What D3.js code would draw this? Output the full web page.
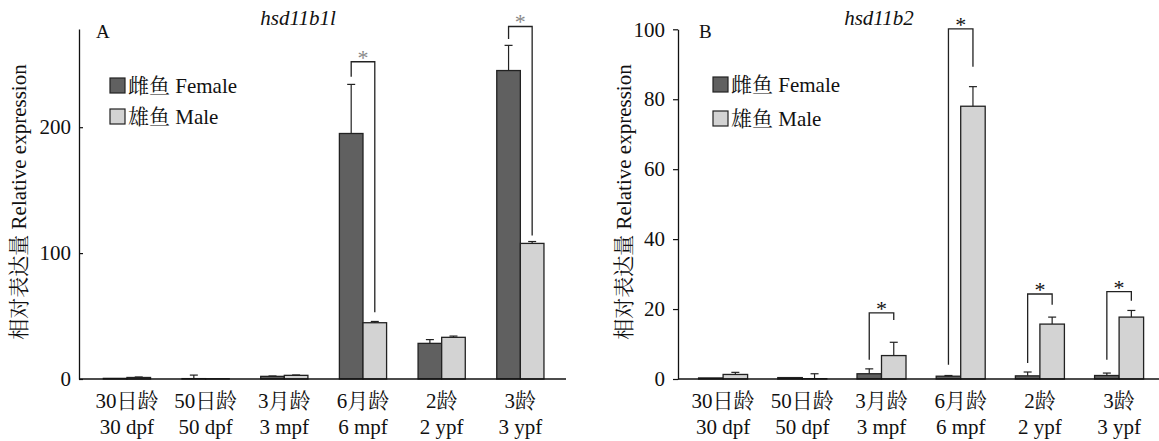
<!DOCTYPE html>
<html lang="zh">
<head>
<meta charset="utf-8">
<title>hsd11b1l / hsd11b2</title>
<script src="https://cdn.jsdelivr.net/npm/d3@7"></script>
<style>
  body { margin: 0; background: #fff; }
  svg text { font-family: "Liberation Serif", "Times New Roman", "Noto Serif CJK SC", "Noto Sans CJK SC", serif; fill: #111; }
</style>
</head>
<body>
<script>
// categories and series
const categoriesCN = ["30日龄", "50日龄", "3月龄", "6月龄", "2龄", "3龄"];
const categoriesEN = ["30 dpf", "50 dpf", "3 mpf", "6 mpf", "2 ypf", "3 ypf"];
const sexes = ["雌鱼 Female", "雄鱼 Male"];

const hsd11b1lFemale    = [0.5, 0.3, 2.1, 195, 28.3, 245];
const hsd11b1lFemaleErr = [0, 2.8, 0.3, 39, 3, 20];
const hsd11b1lMale      = [1.2, 0.2, 2.9, 44.7, 33.1, 107.7];
const hsd11b1lMaleErr   = [0.4, 0, 0.3, 1, 1, 1.5];
const hsd11b1lTicks     = [0, 100, 200];
// significance brackets: top, bottom of left leg, bottom of right leg (data units)
const hsd11b1lSig = [
  {cat: "6 mpf", top: 252, left: 240, right: 53},
  {cat: "3 ypf", top: 280, left: 270, right: 114}
];

const hsd11b2Female    = [0.3, 0.4, 1.5, 0.8, 0.9, 1.0];
const hsd11b2FemaleErr = [0, 0, 1.4, 0.2, 1.1, 0.7];
const hsd11b2Male      = [1.3, 0.1, 6.7, 78, 15.7, 17.7];
const hsd11b2MaleErr   = [0.6, 1.4, 3.8, 5.6, 2, 1.9];
const hsd11b2Ticks     = [0, 20, 40, 60, 80, 100];
const hsd11b2Sig = [
  {cat: "3 mpf", top: 18.9, left: 5.5, right: 16.9},
  {cat: "6 mpf", top: 100.1, left: 4.1, right: 89.3},
  {cat: "2 ypf", top: 24.3, left: 4.6, right: 21.2},
  {cat: "3 ypf", top: 25, left: 5.5, right: 22.4}
];

var width = 1159, height = 441;
var colors = ["#606060", "#d3d3d3"];

var svg = d3.select("body").append("svg")
    .attr("width", width)
    .attr("height", height);

function drawPanel(p) {
    var g = svg.append("g");
    var x0 = d3.scaleBand().domain(categoriesEN).range(p.xRange).padding(0);
    var x1 = d3.scaleBand().domain(sexes).range([0, x0.bandwidth()])
        .paddingInner(0).paddingOuter(p.outer);
    var y = d3.scaleLinear().domain(p.yDomain).range([379, p.yTop]);

    var rows = categoriesEN.map(function(c, i) {
        return {cat: c, vals: [
            {sex: sexes[0], v: p.female[i], e: p.femaleErr[i]},
            {sex: sexes[1], v: p.male[i], e: p.maleErr[i]}
        ]};
    });

    // bars
    var grp = g.selectAll(".grp").data(rows).enter().append("g")
        .attr("transform", function(d) { return "translate(" + x0(d.cat) + ",0)"; });
    grp.selectAll("rect").data(function(d) { return d.vals; }).enter().append("rect")
        .attr("x", function(d) { return x1(d.sex); })
        .attr("width", x1.bandwidth())
        .attr("y", function(d) { return y(d.v); })
        .attr("height", function(d) { return y(0) - y(d.v); })
        .attr("fill", function(d, i) { return colors[i]; })
        .attr("stroke", "#222")
        .attr("stroke-width", 1.3);

    // error bars (upper only)
    var eb = grp.selectAll(".err").data(function(d) { return d.vals.filter(function(v) { return v.e > 0; }); })
        .enter().append("g").attr("class", "err");
    eb.append("line")
        .attr("x1", function(d) { return x1(d.sex) + x1.bandwidth() / 2; })
        .attr("x2", function(d) { return x1(d.sex) + x1.bandwidth() / 2; })
        .attr("y1", function(d) { return y(d.v); })
        .attr("y2", function(d) { return y(d.v + d.e); })
        .attr("stroke", "#222").attr("stroke-width", 1.2);
    eb.append("line")
        .attr("x1", function(d) { return x1(d.sex) + x1.bandwidth() / 2 - 4; })
        .attr("x2", function(d) { return x1(d.sex) + x1.bandwidth() / 2 + 4; })
        .attr("y1", function(d) { return y(d.v + d.e); })
        .attr("y2", function(d) { return y(d.v + d.e); })
        .attr("stroke", "#222").attr("stroke-width", 1.2);

    // significance brackets
    var sg = g.selectAll(".sig").data(p.sig).enter().append("g");
    sg.append("path")
        .attr("d", function(d) {
            var xl = x0(d.cat) + x1(sexes[0]) + x1.bandwidth() / 2;
            var xr = x0(d.cat) + x1(sexes[1]) + x1.bandwidth() / 2;
            return "M" + xl + "," + y(d.left) + "V" + y(d.top) + "H" + xr + "V" + y(d.right);
        })
        .attr("fill", "none").attr("stroke", "#222").attr("stroke-width", 1.3);
    sg.append("text")
        .attr("x", function(d) { return x0(d.cat) + x0.bandwidth() / 2; })
        .attr("y", function(d) { return y(d.top) + 3; })
        .attr("text-anchor", "middle")
        .style("font-size", "22px")
        .style("fill", p.starColor)
        .text("*");

    // y axis
    var yAxis = d3.axisLeft(y).tickValues(p.ticks).tickSize(p.tickSize).tickSizeOuter(0).tickPadding(8);
    var ya = g.append("g").attr("transform", "translate(" + p.axisX + ",0)").call(yAxis);
    ya.attr("font-family", null).attr("font-size", null);
    ya.select(".domain").attr("stroke", "#111").attr("stroke-width", 1.3);
    ya.selectAll(".tick line").attr("stroke", "#111").attr("stroke-width", 1.2);
    ya.selectAll(".tick text").style("font-size", "21px").attr("fill", "#111");

    // x axis baseline
    g.append("line")
        .attr("x1", p.axisX).attr("x2", p.axisEnd)
        .attr("y1", y(0)).attr("y2", y(0))
        .attr("stroke", "#111").attr("stroke-width", 1.3);

    // category labels
    g.selectAll(".cn").data(categoriesCN).enter().append("text")
        .attr("x", function(d, i) { return x0(categoriesEN[i]) + x0.bandwidth() / 2; })
        .attr("y", 408)
        .attr("text-anchor", "middle")
        .style("font-size", "21px")
        .text(function(d) { return d; });
    g.selectAll(".en").data(categoriesEN).enter().append("text")
        .attr("x", function(d) { return x0(d) + x0.bandwidth() / 2; })
        .attr("y", 434)
        .attr("text-anchor", "middle")
        .style("font-size", "21px")
        .text(function(d) { return d; });

    // y label
    g.append("text")
        .attr("transform", "translate(" + p.labelX + ",202) rotate(-90)")
        .attr("text-anchor", "middle")
        .style("font-size", "21px")
        .text("相对表达量 Relative expression");

    // panel letter and gene title
    g.append("text").attr("x", p.letterX).attr("y", 38)
        .style("font-size", "19px").text(p.letter);
    g.append("text").attr("x", p.titleX).attr("y", 25)
        .attr("text-anchor", "middle")
        .style("font-size", "21px").style("font-style", "italic")
        .text(p.title);

    // legend
    var lg = g.selectAll(".lg").data(sexes).enter().append("g")
        .attr("transform", function(d, i) { return "translate(" + p.legendX + "," + (p.legendY + i * p.legendStep) + ")"; });
    lg.append("rect").attr("width", 15).attr("height", 15)
        .attr("fill", function(d, i) { return colors[i]; })
        .attr("stroke", "#222").attr("stroke-width", 1.2);
    lg.append("text").attr("x", 18).attr("y", 15)
        .style("font-size", "21px")
        .text(function(d) { return d; });
}

drawPanel({
    female: hsd11b1lFemale, femaleErr: hsd11b1lFemaleErr,
    male: hsd11b1lMale, maleErr: hsd11b1lMaleErr,
    ticks: hsd11b1lTicks, sig: hsd11b1lSig,
    yDomain: [0, 278], yTop: 29,
    xRange: [87.6, 559.7], outer: 0.667,
    axisX: 79, axisEnd: 566, tickSize: -4,
    labelX: 26, letter: "A", letterX: 96, title: "hsd11b1l", titleX: 298,
    legendX: 110, legendY: 78, legendStep: 31, starColor: "#888"
});

drawPanel({
    female: hsd11b2Female, femaleErr: hsd11b2FemaleErr,
    male: hsd11b2Male, maleErr: hsd11b2MaleErr,
    ticks: hsd11b2Ticks, sig: hsd11b2Sig,
    yDomain: [0, 100], yTop: 29.3,
    xRange: [683.5, 1158.7], outer: 0.616,
    axisX: 678, axisEnd: 1159, tickSize: 5,
    labelX: 631, letter: "B", letterX: 699, title: "hsd11b2", titleX: 879,
    legendX: 713, legendY: 77, legendStep: 34, starColor: "#111"
});
</script>
</body>
</html>
